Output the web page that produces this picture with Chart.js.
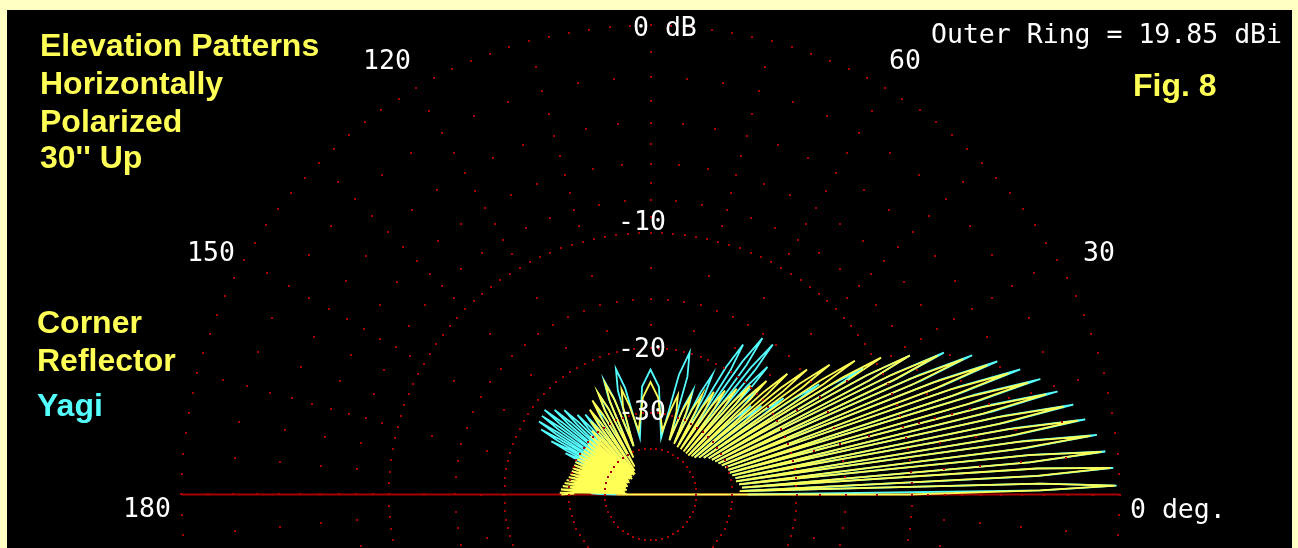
<!DOCTYPE html>
<html>
<head>
<meta charset="utf-8">
<script src="https://cdn.jsdelivr.net/npm/chart.js@4.4.1/dist/chart.umd.min.js"></script>
<style>
  html, body { margin: 0; padding: 0; background: #FFFFC4; overflow: hidden; }
  #plot { display: block; }
</style>
</head>
<body>
<canvas id="plot" width="1298" height="548"></canvas>
<script>
// Elevation-plane lobes (deg above horizon) shared by both antennas
const lobeAngles = [
  1.1, 3.3, 5.4, 7.6, 9.8,
  12.0, 14.2, 16.5, 18.7, 21.0,
  23.4, 25.8, 28.2, 30.7, 33.2,
  35.9, 38.6, 41.4, 44.4, 47.5,
  50.8, 54.4, 58.3, 62.7, 67.8,
  74.6, 90.0,
  105.4, 112.2, 117.3, 121.7, 125.6,
  129.2, 132.5, 135.6, 138.6, 141.4,
  144.1, 146.8, 149.3, 151.8, 154.1,
  156.6, 158.9, 161.3, 163.5, 165.8,
  168.0, 170.2, 172.4, 174.6, 176.8,
  178.9
];
// half-width of each lobe at its shoulders (deg)
const lobeHalfWidths = [
  0.5, 0.55, 0.55, 0.55, 0.55,
  0.55, 0.55, 0.6, 0.6, 0.6,
  0.6, 0.6, 0.65, 0.65, 0.65,
  0.7, 0.7, 0.75, 0.8, 0.8,
  0.85, 0.95, 1.05, 1.2, 1.4,
  2.0, 4.5,
  2.0, 1.4, 1.2, 1.05, 0.95,
  0.85, 0.8, 0.8, 0.75, 0.7,
  0.7, 0.65, 0.65, 0.65, 0.6,
  0.6, 0.6, 0.6, 0.6, 0.55,
  0.55, 0.55, 0.55, 0.55, 0.55,
  0.5
];
const nullAngles = [
  0.0, 2.2, 4.3, 6.5, 8.7,
  10.9, 13.1, 15.3, 17.6, 19.9,
  22.2, 24.6, 27.0, 29.4, 31.9,
  34.5, 37.2, 40.0, 42.9, 45.9,
  49.1, 52.5, 56.3, 60.4, 65.1,
  70.8, 79.4, 100.6,
  109.2, 114.9, 119.6, 123.7, 127.5,
  130.9, 134.1, 137.2, 140.0, 142.8,
  145.5, 148.0, 150.6, 153.0, 155.5,
  157.8, 160.1, 162.4, 164.7, 166.9,
  169.1, 171.3, 173.5, 175.7, 177.8,
  180.0
];

// Corner reflector (dB below outer ring): lobe maxima, lobe shoulders, nulls
const cornerPeaks = [
  -0.15, -0.3, -0.6, -0.95, -1.35,
  -1.8, -2.4, -3.0, -3.7, -4.5,
  -5.5, -6.6, -8.0, -9.6, -11.2,
  -12.9, -14.6, -16.2, -18.2, -19.8,
  -21.2, -22.3, -23.3, -24.5, -25.5,
  -26.0, -24.5,
  -25.0, -23.4, -24.2, -24.8, -25.8,
  -27.5, -29.0, -29.6, -30.0, -30.3,
  -30.4, -30.4, -30.3, -30.2, -30.1,
  -30.0, -30.0, -29.9, -29.9, -29.8,
  -29.6, -29.3, -29.0, -28.7, -28.4,
  -28.2
];
const cornerShoulders = [
  -3.2, -3.3, -3.6, -4.0, -4.4,
  -4.8, -5.4, -6.0, -6.7, -7.5,
  -8.5, -9.6, -11.0, -12.6, -14.2,
  -15.9, -17.6, -19.2, -21.2, -22.8,
  -24.2, -25.3, -26.3, -27.5, -28.5,
  -29.0, -27.0,
  -28.0, -26.4, -27.2, -27.8, -28.8,
  -30.5, -32.0, -32.6, -33.0, -33.3,
  -33.4, -33.4, -33.3, -33.2, -33.1,
  -33.0, -33.0, -32.9, -32.9, -32.8,
  -32.6, -32.3, -32.0, -31.7, -31.4,
  -31.2
];
const cornerNulls = [
  -10.2, -28.5, -28.0, -28.5, -29.0,
  -29.0, -29.5, -30.0, -30.0, -30.5,
  -31.0, -31.5, -32.0, -32.5, -33.0,
  -34.0, -35.0, -36.0, -36.5, -37.0,
  -37.0, -37.0, -37.0, -37.0, -36.5,
  -36.0, -34.0, -34.0,
  -38.0, -42.0, -46.0, -48.0, -50.0,
  -50.0, -49.0, -50.0, -51.0, -50.0,
  -49.0, -50.0, -51.0, -50.0, -49.0,
  -50.0, -51.0, -50.0, -49.0, -50.0,
  -51.0, -50.0, -49.0, -50.0, -51.0,
  -28.5
];
// the trace starts on the horizon just behind the centre and runs out along 0 deg
const cornerStart = { angle: 180, dB: -45.0 };

// Yagi (dB below outer ring): lobe maxima, lobe shoulders, nulls
const yagiPeaks = [
  -0.1, -0.2, -0.45, -0.7, -1.05,
  -1.4, -1.9, -2.45, -3.15, -4.0,
  -5.0, -6.25, -8.0, -11.0, -14.5,
  -18.0, -20.5, -21.5, -19.5, -17.1,
  -15.2, -15.3, -16.8, -21.4, -24.5,
  -19.9, -22.7,
  -22.0, -22.9, -24.5, -26.0, -26.5,
  -26.0, -25.2, -23.3, -22.3, -21.3,
  -21.5, -21.6, -22.4, -24.5, -27.5,
  -30.0, -31.5, -32.5, -33.0, -33.5,
  -33.5, -34.0, -34.0, -34.5, -35.0,
  -35.5
];
const yagiShoulders = [
  -3.1, -3.2, -3.5, -3.7, -4.1,
  -4.4, -4.9, -5.5, -6.2, -7.0,
  -8.0, -9.3, -11.0, -14.0, -17.5,
  -21.0, -23.5, -24.5, -22.5, -20.1,
  -18.2, -18.3, -19.8, -24.4, -27.5,
  -22.9, -25.2,
  -25.0, -25.9, -27.5, -29.0, -29.5,
  -29.0, -28.2, -26.3, -25.3, -24.3,
  -24.5, -24.6, -25.4, -27.5, -30.5,
  -33.0, -34.5, -35.5, -36.0, -36.5,
  -36.5, -37.0, -37.0, -37.5, -38.0,
  -38.5
];
const yagiNulls = [
  -27.0, -28.0, -28.0, -28.5, -29.0,
  -29.0, -29.5, -30.0, -30.0, -30.5,
  -31.0, -31.5, -32.0, -32.5, -33.0,
  -34.0, -35.0, -36.0, -36.0, -36.0,
  -36.0, -36.0, -36.0, -36.0, -36.0,
  -36.0, -36.0, -36.0,
  -38.0, -40.0, -42.0, -44.0, -45.0,
  -45.0, -44.0, -45.0, -46.0, -45.0,
  -44.0, -45.0, -46.0, -45.0, -44.0,
  -45.0, -46.0, -45.0, -44.0, -45.0,
  -46.0, -45.0, -44.0, -45.0, -46.0,
  -45.0
];

// Grid levels (dB)
const majorRings = [0, -10, -20, -30, -40];
const minorRings = [-2, -4, -6, -8, -15];
const spokeLevels = [-1, -3, -5, -7, -9, -12.5, -17.5];

// Text
const titleLines = ['Elevation Patterns', 'Horizontally', 'Polarized', "30'' Up"];
const figLabel = 'Fig. 8';
const outerRingNote = 'Outer Ring = 19.85 dBi';
const cornerLegend = ['Corner', 'Reflector'];
const yagiLegend = 'Yagi';
const angleTickLabels = ['0 deg.', '30', '60', '120', '150', '180'];
const dbTickLabels = ['0 dB', '-10', '-20', '-30'];

// ---- layout / style ----
const W = 1298, H = 548;
const CX = 650.5, CY = 494.5, R = 469;
const PANEL = { x: 7, y: 10, w: 1285, h: 538 };
const YELLOW = '#FFFF55', CYAN = '#55FFFF', RED = '#AA0000', WHITE = '#FFFFFF';
const SANS = 'bold 32px "Liberation Sans", Arial, sans-serif';
const MONO = '26.5px "DejaVu Sans Mono", "Liberation Mono", monospace';
const ringStep = { 0: 2.5, '-10': 2.5, '-20': 10 / 3, '-30': 5, '-40': 7.5 };

const angleTickPos = [[1130, 518], [1083, 261], [889, 69], [363, 69], [187, 261], [123, 517]];
const dbTickPos = [[633, 36], [618, 230], [618, 357], [618, 420]];

// ARRL log-periodic radius: 0.89 per 2 dB
const arrl = dB => Math.pow(0.89, -dB / 2);
function polar(angleDeg, dB) {
  const f = arrl(dB), a = angleDeg * Math.PI / 180;
  return { x: f * Math.cos(a), y: f * Math.sin(a) };
}
// null -> shoulder -> peak -> shoulder -> next null, lobe after lobe
function trace(peaks, shoulders, nulls) {
  const pts = [];
  for (let i = 0; i < lobeAngles.length; i++) {
    pts.push(polar(nullAngles[i], nulls[i]));
    pts.push(polar(lobeAngles[i] - lobeHalfWidths[i], shoulders[i]));
    pts.push(polar(lobeAngles[i], peaks[i]));
    pts.push(polar(lobeAngles[i] + lobeHalfWidths[i], shoulders[i]));
  }
  pts.push(polar(nullAngles[lobeAngles.length], nulls[lobeAngles.length]));
  return pts;
}

const cornerPts = [polar(cornerStart.angle, cornerStart.dB)]
  .concat(trace(cornerPeaks, cornerShoulders, cornerNulls));
const yagiPts = trace(yagiPeaks, yagiShoulders, yagiNulls);

const framePlugin = {
  id: 'frame',
  beforeDraw(chart) {
    const c = chart.ctx;
    c.save();
    c.fillStyle = '#FFFFC4';
    c.fillRect(0, 0, W, H);
    c.fillStyle = '#000000';
    c.fillRect(PANEL.x, PANEL.y, PANEL.w, PANEL.h);
    c.restore();
  }
};

const gridPlugin = {
  id: 'dotgrid',
  afterDatasetsDraw(chart) {
    const c = chart.ctx, xs = chart.scales.x, ys = chart.scales.y;
    c.save();
    c.beginPath();
    c.rect(PANEL.x, PANEL.y, PANEL.w, PANEL.h);
    c.clip();
    c.fillStyle = RED;
    const dot = (a, dB) => {
      const p = polar(a, dB);
      const px = Math.round(xs.getPixelForValue(p.x));
      const py = Math.round(ys.getPixelForValue(p.y));
      c.fillRect(px - 1, py - 1, 2, 2);
    };
    majorRings.forEach(dB => {
      const step = ringStep[String(dB)];
      for (let a = 0; a < 359.9; a += step) dot(a, dB);
    });
    minorRings.forEach(dB => { for (let a = 0; a < 360; a += 5) dot(a, dB); });
    for (let a = 0; a < 360; a += 15) spokeLevels.forEach(dB => dot(a, dB));
    c.restore();
  }
};

const textPlugin = {
  id: 'labels',
  afterDraw(chart) {
    const c = chart.ctx;
    c.save();
    c.textAlign = 'left';
    c.textBaseline = 'alphabetic';
    c.font = SANS;
    c.fillStyle = YELLOW;
    const titleBase = [56, 94, 132, 168];
    titleLines.forEach((s, i) => c.fillText(s, 40, titleBase[i]));
    c.fillText(figLabel, 1133, 96);
    c.fillText(cornerLegend[0], 37, 333);
    c.fillText(cornerLegend[1], 37, 371);
    c.fillStyle = CYAN;
    c.fillText(yagiLegend, 37, 416);
    c.font = MONO;
    c.fillStyle = WHITE;
    c.fillText(outerRingNote, 931, 43);
    angleTickLabels.forEach((s, i) => c.fillText(s, angleTickPos[i][0], angleTickPos[i][1]));
    dbTickLabels.forEach((s, i) => c.fillText(s, dbTickPos[i][0], dbTickPos[i][1]));
    c.restore();
  }
};

new Chart(document.getElementById('plot'), {
  type: 'scatter',
  data: {
    datasets: [
      { label: 'Corner Reflector', data: cornerPts, showLine: true, borderColor: YELLOW,
        borderWidth: 1.8, pointRadius: 0, fill: false, order: 0 },
      { label: 'Yagi', data: yagiPts, showLine: true, borderColor: CYAN,
        borderWidth: 1.8, pointRadius: 0, fill: false, order: 1 },
      { label: 'Horizon', data: [polar(180, 0), polar(0, 0)], showLine: true, borderColor: RED,
        borderWidth: 2, pointRadius: 0, fill: false, order: 2 }
    ]
  },
  options: {
    responsive: false,
    animation: false,
    devicePixelRatio: 1,
    layout: { padding: 0 },
    elements: { line: { tension: 0 } },
    scales: {
      x: { type: 'linear', display: false, min: -CX / R, max: (W - CX) / R },
      y: { type: 'linear', display: false, min: -(H - CY) / R, max: CY / R }
    },
    plugins: { legend: { display: false }, tooltip: { enabled: false } }
  },
  plugins: [framePlugin, gridPlugin, textPlugin]
});
</script>
</body>
</html>
